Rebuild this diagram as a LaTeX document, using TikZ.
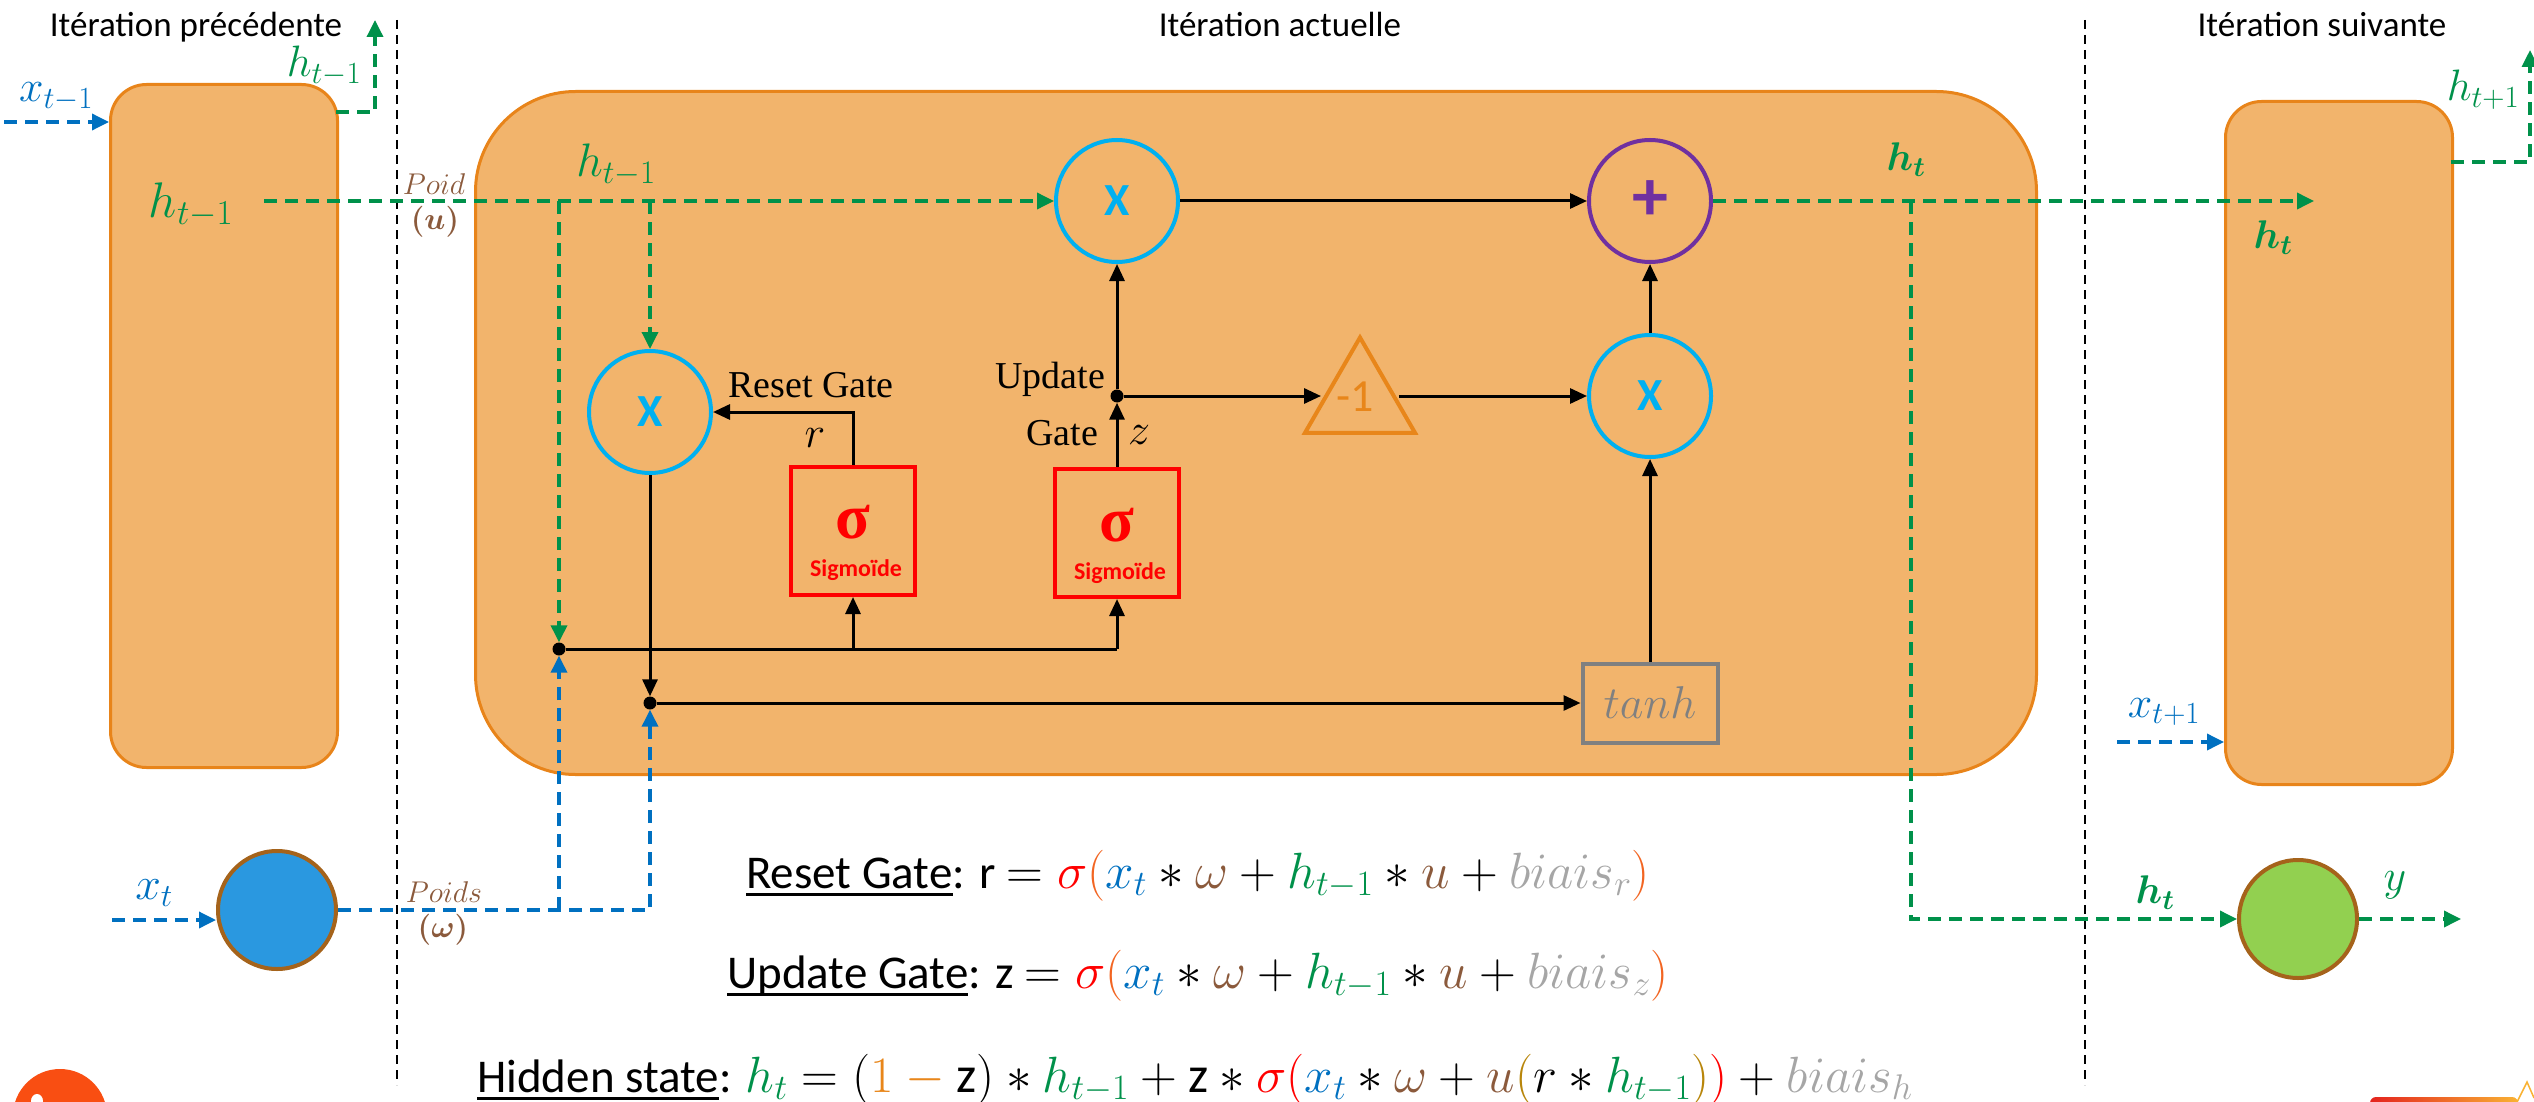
\RequirePackage{fix-cm}
\documentclass[tikz,border=0pt]{standalone}
\usepackage{fontspec}
\setmainfont{Carlito}
\newfontfamily\labelserif{Liberation Serif}
\usepackage{amsmath}
\usetikzlibrary{arrows.meta,shapes.geometric,calc}

\definecolor{cellfill}{HTML}{F2B46C}
\definecolor{cellline}{HTML}{E8841A}
\definecolor{hgreen}{HTML}{00914A}
\definecolor{xblue}{HTML}{0070C0}
\definecolor{opcyan}{HTML}{00B0F0}
\definecolor{oppurple}{HTML}{7030A0}
\definecolor{wbrown}{HTML}{8B5A3C}
\definecolor{ringbrown}{HTML}{A5631B}
\definecolor{infill}{HTML}{2A98E0}
\definecolor{outfill}{HTML}{92D050}
\definecolor{tanhgray}{HTML}{808080}
\definecolor{biasgray}{HTML}{A6A6A6}
\definecolor{negorange}{HTML}{E8861A}
\definecolor{parorange}{HTML}{F26522}
\definecolor{pargold}{HTML}{B8860B}
\definecolor{logoorange}{HTML}{F94E12}
\definecolor{barred}{HTML}{E4231E}
\definecolor{baryellow}{HTML}{F9B233}

\newcommand\fsz[2]{\fontsize{#1}{#2}\selectfont}
% thick underline for the equation headings
\newcommand\headline[1]{\setbox0\hbox{#1}\rlap{\rule[-8pt]{\wd0}{3.5pt}}\box0}

\begin{document}
\begin{tikzpicture}[x=1pt,y=-1pt,
  cell/.style={draw=cellline, fill=cellfill, line width=3pt, rounded corners=36pt, inner sep=0pt},
  opnode/.style={circle, draw=opcyan, line width=4pt, minimum size=122pt, inner sep=0pt,
    text=opcyan, font=\fsz{46}{50}\bfseries},
  gatebox/.style={draw=red, line width=4pt, minimum width=124pt, minimum height=128pt, inner sep=0pt},
  wire/.style={line width=3pt, -{Triangle[length=17pt,width=15pt]}},
  plainwire/.style={line width=3pt},
  arrowend/.style={-{Triangle[length=17pt,width=16pt]}},
  gflow/.style={draw=hgreen, line width=3.5pt, dash pattern=on 13pt off 8pt},
  bflow/.style={draw=xblue, line width=3.5pt, dash pattern=on 13pt off 8pt},
  divider/.style={line width=2.5pt, dash pattern=on 9pt off 6pt},
  joint/.style={circle, fill=black, minimum size=13pt, inner sep=0pt},
  unit/.style={circle, draw=ringbrown, line width=4pt, minimum size=118pt, inner sep=0pt},
  title/.style={anchor=base, font=\fsz{35}{42}},
  mathlbl/.style={inner sep=0pt, font=\fsz{44}{50}},
  weightlbl/.style={inner sep=0pt, text=wbrown},
  gatelbl/.style={inner sep=0pt, font=\labelserif\fsz{38}{44}},
  sigsym/.style={inner sep=0pt, text=red, font=\labelserif\bfseries\fsz{64}{64}},
  signame/.style={inner sep=0pt, text=red, font=\fsz{24}{28}\bfseries},
  eqline/.style={anchor=base west, inner sep=0pt, font=\fsz{47}{56}}
]
\clip (0,0) rectangle (2534,1102);

% time-step separators
\draw[divider] (397,20) -- (397,1085);
\draw[divider] (2085,20) -- (2085,1085);

% the three cells
\node[cell, anchor=north west, minimum width=227pt, minimum height=683pt] (prev) at (109,83) {};
\node[cell, rounded corners=100pt, anchor=north west, minimum width=1561pt, minimum height=683pt] (cur) at (474,90) {};
\node[cell, anchor=north west, minimum width=227pt, minimum height=683pt] (next) at (2224,100) {};

% titles
\node[title] (tprev) at (196,37) {Itération précédente};
\node[title] (tcur) at (1280,37) {Itération actuelle};
\node[title] (tnext) at (2322,37) {Itération suivante};

% operators inside the cell
\node[opnode] (mulT) at (1117,201) {X};
\node[opnode, draw=oppurple, text=oppurple, font=\fsz{72}{72}\bfseries] (sum) at (1650,201) {+};
\node[opnode] (mulR) at (650,412) {X};
\node[opnode] (mulB) at (1650,396) {X};
\node[gatebox] (sigR) at (853,531) {};
\node[gatebox] (sigZ) at (1117,533) {};
\node[regular polygon, regular polygon sides=3, draw=negorange, line width=4pt,
      minimum size=127pt, inner sep=0pt] (neg) at (1360,401) {};
\node[inner sep=0pt, text=negorange, font=\fsz{46}{52}] (negtxt) at (1355,397) {-1};
\node[draw=tanhgray, line width=4pt, minimum width=135pt, minimum height=79pt, inner sep=0pt,
      text=tanhgray, font=\fsz{46}{52}] (tanhbox) at (1650,703) {$tanh$};

% sigmoid box contents
\node[sigsym] (sigRsym) at (853,522) {σ};
\node[signame] (sigRname) at (856,570) {Sigmoïde};
\node[sigsym] (sigZsym) at (1117,525) {σ};
\node[signame] (sigZname) at (1120,573) {Sigmoïde};

% junction points
\node[joint] (jz) at (1117,396) {};
\node[joint] (jh) at (559,649) {};
\node[joint] (jr) at (650,703) {};

% input and output units
\node[unit, fill=infill] (xin) at (277,910) {};
\node[unit, fill=outfill] (yout) at (2298,919) {};

% solid connections inside the cell
\draw[wire] (mulT) -- (sum);
\draw[wire] (mulB) -- (sum);
\draw[wire] (tanhbox) -- (mulB);
\draw[wire] (jz) -- (mulT);
\draw[wire] (sigZ) -- (jz);
\draw[wire] (jz) -- (jz -| neg.west);
\draw[wire] (neg.east |- jz) -- (mulB);
\draw[wire] (sigR.north) |- (mulR.east);
\draw[wire] (mulR) -- (jr);
\draw[wire] (jr) -- (tanhbox);
\draw[plainwire] (jh) -- (jh -| sigZ);
\draw[line width=1.5pt] (jh) -- (jh -| sigR);
\draw[wire] (jh -| sigR) -- (sigR);
\draw[wire] (jh -| sigZ) -- (sigZ);

% hidden-state flow (green)
\coordinate (hsrc) at (264,201);
\coordinate (hnext) at (2314,201);
\coordinate (hdown) at (1911,201);
\coordinate (yend) at (2461,919);
\coordinate (pout) at (336,112);
\coordinate (pup) at (375,20);
\coordinate (nout) at (2451,162);
\coordinate (nup) at (2530,50);
\draw[gflow, arrowend] (hsrc) -- (mulT);
\draw[gflow, arrowend] (hsrc -| jh) -- (jh);
\draw[gflow, arrowend] (hsrc -| mulR) -- (mulR);
\draw[gflow, arrowend] (sum) -- (hnext);
\draw[gflow, arrowend] (hdown) |- (yout);
\draw[gflow, arrowend] (yout) -- (yend);
\draw[gflow, arrowend] (pout) -| (pup);
\draw[gflow, arrowend] (nout) -| (nup);

% input flow (blue)
\coordinate (xprevsrc) at (4,122);
\coordinate (xtsrc) at (112,920);
\coordinate (xnextsrc) at (2117,742);
\coordinate (wcorner) at (jr |- xin);
\draw[bflow, arrowend] (xprevsrc) -- (xprevsrc -| prev.west);
\draw[bflow, arrowend] (xtsrc) -- (xtsrc -| xin.west);
\draw[bflow, arrowend] (xin) -- (wcorner) -- (jr);
\draw[bflow, arrowend] (jh |- xin) -- (jh);
\draw[bflow, arrowend] (xnextsrc) -- (xnextsrc -| next.west);

% labels
\node[mathlbl, text=xblue] (lxprev) at (56,97) {$x_{t-1}$};
\node[mathlbl, text=hgreen] (lhprevout) at (324,66) {$h_{t-1}$};
\node[mathlbl, text=hgreen, font=\fsz{50}{54}] (lhprev) at (191,205) {$h_{t-1}$};
\node[weightlbl, font=\fsz{30}{34}] (lpoidu) at (434,184) {$Poid$};
\node[weightlbl, font=\fsz{31}{34}] (lu) at (435,222) {$\boldsymbol{(u)}$};
\node[mathlbl, text=hgreen, font=\fsz{47}{50}] (lhcur) at (616,165) {$h_{t-1}$};
\node[mathlbl, text=xblue, font=\fsz{46}{50}] (lxt) at (154,893) {$x_t$};
\node[weightlbl, font=\fsz{30}{34}] (lpoidw) at (444,892) {$Poids$};
\node[weightlbl, font=\fsz{31}{34}] (lw) at (443,930) {$\boldsymbol{(\omega)}$};
\node[gatelbl] (lreset) at (811,385) {Reset Gate};
\node[mathlbl] (lr) at (815,438) {$r$};
\node[gatelbl] (lupd) at (1050,379) {Update};
\node[gatelbl] (lgate) at (1062,433) {Gate};
\node[mathlbl] (lz) at (1139,435) {$z$};
\node[mathlbl, text=hgreen, font=\fsz{40}{44}] (lhout) at (1906,160) {$\boldsymbol{h_t}$};
\node[mathlbl, text=hgreen, font=\fsz{40}{44}] (lhnext) at (2273,238) {$\boldsymbol{h_t}$};
\node[mathlbl, text=hgreen, font=\fsz{40}{44}] (lhy) at (2155,893) {$\boldsymbol{h_t}$};
\node[mathlbl, text=hgreen] (ly) at (2395,885) {$y$};
\node[mathlbl, text=hgreen] (lhtp) at (2483,90) {$h_{t+1}$};
\node[mathlbl, text=xblue] (lxnext) at (2164,712) {$x_{t+1}$};

% gate equations
\node[eqline] (eqreset) at (746,888) {\headline{Reset Gate}: r {\fsz{51}{56}$= {\color{red}\sigma}{\color{parorange}(}{\color{xblue}x_t}\ast{\color{wbrown}\omega}+{\color{hgreen}h_{t-1}}\ast{\color{wbrown}u}+{\color{biasgray}biais_r}{\color{parorange})}$}};
\node[eqline] (equpdate) at (727,988) {\headline{Update Gate}: z {\fsz{51}{56}$= {\color{red}\sigma}{\color{parorange}(}{\color{xblue}x_t}\ast{\color{wbrown}\omega}+{\color{hgreen}h_{t-1}}\ast{\color{wbrown}u}+{\color{biasgray}biais_z}{\color{parorange})}$}};
\node[eqline] (eqhidden) at (477,1092) {\headline{Hidden state}: {\fsz{51}{56}${\color{hgreen}h_t}=(\textcolor{negorange}{1}\mathbin{\textcolor{negorange}{-}}\text{z})\ast{\color{hgreen}h_{t-1}}+\text{z}\ast{\color{red}\sigma(}{\color{xblue}x_t}\ast{\color{wbrown}\omega}+{\color{wbrown}u}{\color{pargold}(}r\ast{\color{hgreen}h_{t-1}}{\color{pargold})}{\color{red})}+{\color{biasgray}biais_h}$}};

% corner marks
\fill[logoorange] (60,1116) circle[radius=47];
\fill[white] (37,1101) ellipse[x radius=6, y radius=7];
\shade[left color=barred, right color=baryellow, rounded corners=6pt] (2370,1097) rectangle (2518,1112);
\draw[baryellow, line width=1.5pt] (2517,1102) -- (2527,1082) -- (2534,1098);
\end{tikzpicture}
\end{document}
